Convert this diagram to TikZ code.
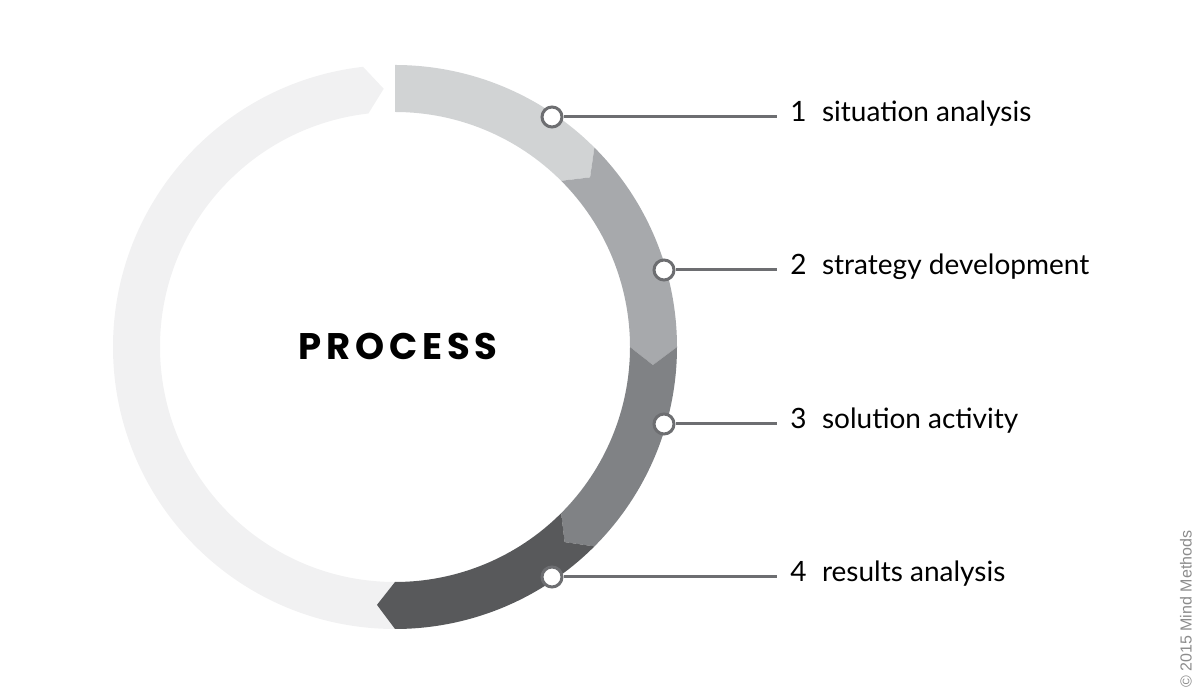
\documentclass[tikz,border=0pt]{standalone}
\usepackage{fontspec}
\setmainfont{Poppins}
\newfontfamily\labelfont{Lato}
\newfontfamily\notefont{Liberation Sans}
\usetikzlibrary{calc, positioning}

\definecolor{segA}{HTML}{D1D3D4}
\definecolor{segB}{HTML}{A7A9AC}
\definecolor{segC}{HTML}{808285}
\definecolor{segD}{HTML}{58595B}
\definecolor{segBase}{HTML}{F1F1F2}
\definecolor{linegray}{HTML}{6D6E71}

\tikzset{
    dot/.style={circle, draw=linegray, line width=1.5pt, fill=white, minimum size=10pt, inner sep=0pt},
    steplabel/.style={anchor=base west, inner sep=0pt, font=\labelfont\fontsize{14}{17}\selectfont},
    leader/.style={draw=linegray, line width=1.5pt, shorten >=6.5pt},
}

\begin{document}
\begin{tikzpicture}[x=0.5pt, y=0.5pt]
    \useasboundingbox (0,0) rectangle (1200,695);
    \coordinate (C) at (395,348);
    % ring segments: start angle / end angle / notch depth / colour
    \foreach \a/\b/\n/\col in {270/96.5/4/segBase, 90/45/0/segA, 45/0/4/segB, 0/-45/4/segC, -45/-90/4/segD} {
        \fill[\col] ($(C)+(\a:282)$) arc[start angle=\a, end angle=\b, radius=282]
            -- ($(C)+(\b-4:258.5)$) -- ($(C)+(\b:235)$)
            arc[start angle=\b, end angle=\a, radius=235]
            -- ($(C)+(\a-\n:258.5)$) -- cycle;
    }
    \node[font=\bfseries\fontsize{18.5}{21}\selectfont\addfontfeature{LetterSpace=13}] (title) at (398,349) {PROCESS};
    % markers and labels
    \foreach \i/\x/\y/\t in {1/552/578/situation analysis, 2/664/425/strategy development, 3/664/271/solution activity, 4/552/118/results analysis} {
        \node[steplabel] (lab\i) at (790,\y-5) {\i\hspace{0.55em}\t};
        \node[dot] (dot\i) at (\x,\y) {};
        \draw[leader] (dot\i.east) -- (dot\i -| lab\i.west);
    }
    \node[rotate=90, anchor=west, text=black!45, font=\notefont\fontsize{8}{9}\selectfont, inner sep=0pt] (note) at (1186,7) {\textcopyright{} 2015 Mind Methods};
\end{tikzpicture}
\end{document}
